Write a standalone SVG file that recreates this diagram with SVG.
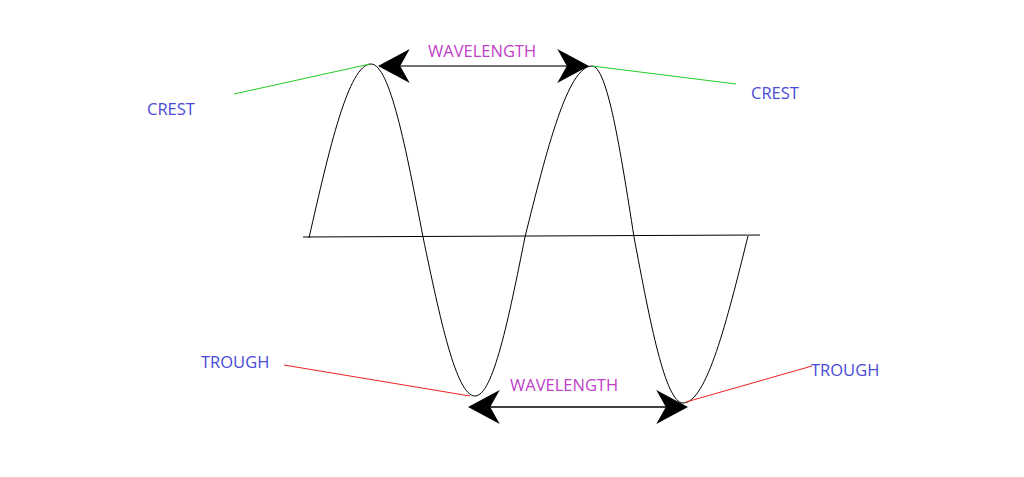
<svg xmlns="http://www.w3.org/2000/svg" width="1024" height="477" viewBox="0 0 1024 477">
<style>
.lbl{font-family:"Open Sans","Liberation Sans",sans-serif;font-size:16.5px;fill:#4a4ad8}
.wl{font-family:"Open Sans","Liberation Sans",sans-serif;font-size:16.5px;fill:#c040c8}
</style>
<defs>
<marker id="ah" viewBox="0 0 30 32" refX="28" refY="16" markerWidth="32" markerHeight="34" markerUnits="userSpaceOnUse" orient="auto-start-reverse">
<path d="M0,0 L30,16 L0,32 L9,16 Z" fill="#000"/>
</marker>
</defs>
<rect width="1024" height="477" fill="#fff"/>
<g id="wave">
<path d="M309,238 C329.2,148.9 348.6,64 371,64 C389.8,64 406,148.4 423,237 C440,318.4 456.2,396 475,396 C493.1,396 508.7,318.4 525,237 C546.8,149.4 567.7,66 592,66 C607.2,66 620.3,149.4 634,237 C650,322 665.3,403 683,403 C706.5,403 726.8,321.5 748,236" fill="none" stroke="#000" stroke-width="1"/>
<line x1="303" y1="237" x2="760" y2="235" stroke="#000" stroke-width="1"/>
</g>
<g id="connectors">
<line x1="234" y1="94" x2="370" y2="64" stroke="#22cc22"/>
<line x1="592" y1="66" x2="736" y2="84" stroke="#22cc22"/>
<line x1="284" y1="365" x2="470" y2="396" stroke="#ee2222"/>
<line x1="686" y1="402" x2="812" y2="366" stroke="#ee2222"/>
<line x1="380" y1="66" x2="587" y2="66" stroke="#444" stroke-width="1.3" marker-start="url(#ah)" marker-end="url(#ah)"/>
<line x1="470" y1="407" x2="686" y2="407" stroke="#000" stroke-width="1.3" marker-start="url(#ah)" marker-end="url(#ah)"/>
</g>
<g id="crest-left"><text class="lbl" x="147" y="115">CREST</text></g>
<g id="crest-right"><text class="lbl" x="751" y="99">CREST</text></g>
<g id="trough-left"><text class="lbl" x="201" y="368">TROUGH</text></g>
<g id="trough-right"><text class="lbl" x="811" y="376">TROUGH</text></g>
<g id="wl-top"><text class="wl" x="428" y="57">WAVELENGTH</text></g>
<g id="wl-bottom"><text class="wl" x="510" y="391">WAVELENGTH</text></g>
</svg>
